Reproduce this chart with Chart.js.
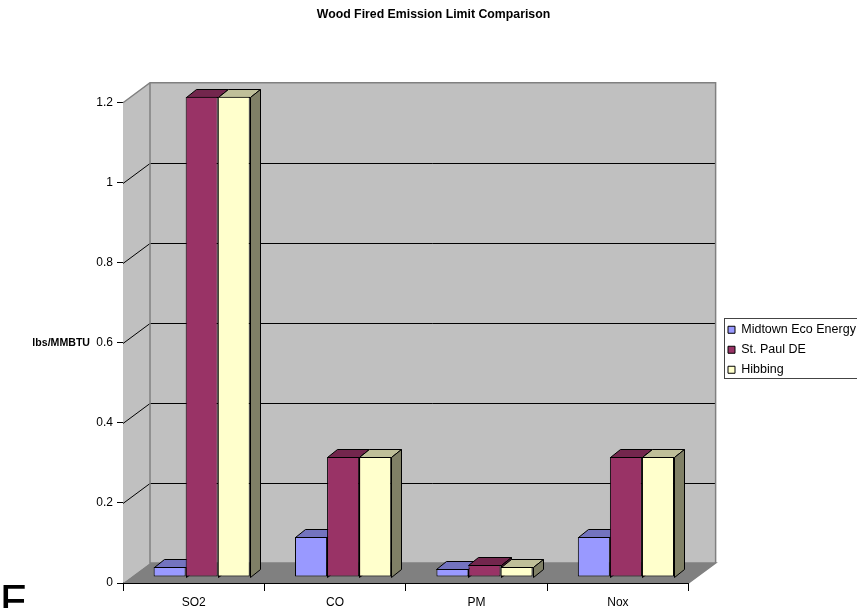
<!DOCTYPE html>
<html><head><meta charset="utf-8">
<style>html,body{margin:0;padding:0;background:#fff;overflow:hidden}canvas{display:block}</style>
<script src="https://cdn.jsdelivr.net/npm/chart.js@4"></script></head>
<body><canvas id="c" width="857" height="608"></canvas>
<script>
const categories = ["SO2","CO","PM","Nox"];
const midtown = [0.025,0.1,0.02,0.1];
const stPaul = [1.2,0.3,0.03,0.3];
const hibbing = [1.2,0.3,0.025,0.3];
const seriesNames = ["Midtown Eco Energy","St. Paul DE","Hibbing"];
const yTicks = [0,0.2,0.4,0.6,0.8,1,1.2];
const chartTitle = "Wood Fired Emission Limit Comparison";
const yTitle = "lbs/MMBTU";
const FONT = '"Liberation Sans", Arial, sans-serif';
const colors = [[153,153,255],[153,51,102],[255,255,204]];
const rgb = (c,k=1)=>`rgb(${c.map(v=>Math.round(v*k)).join(',')})`;
const WALL = {x:27,y:-20}, BAR = {x:8,y:-6}, DEPTH = {x:10,y:-8};

function poly(ctx,pts,fill,stroke,lw){
  ctx.beginPath();
  pts.forEach((p,i)=>i?ctx.lineTo(p[0],p[1]):ctx.moveTo(p[0],p[1]));
  ctx.closePath();
  if(fill){ctx.fillStyle=fill;ctx.fill();}
  if(stroke){ctx.strokeStyle=stroke;ctx.lineWidth=lw||1;ctx.stroke();}
}
const scene = {
  id:'scene',
  afterLayout(chart){
    const l=chart.legend;
    const w=l.width,h=l.height;
    l.left=720.5;l.right=720.5+w;l.top=316;l.bottom=316+h;
    chart.titleBlock.left=0;chart.titleBlock.right=867;
  },
  beforeDatasetsDraw(chart){
    const {ctx,scales:{x,y}}=chart;
    const L=x.left,R=x.right,B=y.getPixelForValue(0),T=y.getPixelForValue(1.2);
    ctx.save();
    poly(ctx,[[L,T],[L+WALL.x,T+WALL.y],[L+WALL.x,B+WALL.y],[L,B]],'#c0c0c0');
    poly(ctx,[[L+WALL.x,T+WALL.y],[R+WALL.x,T+WALL.y],[R+WALL.x,B+WALL.y],[L+WALL.x,B+WALL.y]],'#c0c0c0');
    poly(ctx,[[L,B],[L+WALL.x,B+WALL.y],[R+WALL.x,B+WALL.y],[R,B]],'#808080');
    ctx.lineWidth=1;
    yTicks.forEach(v=>{
      if(v===0||v===1.2) return;
      const p=Math.round(y.getPixelForValue(v))+0.5;
      ctx.strokeStyle='#000';
      ctx.beginPath();ctx.moveTo(L,p);ctx.lineTo(L+WALL.x,p+WALL.y);ctx.lineTo(R+WALL.x,p+WALL.y);ctx.stroke();
    });
    ctx.strokeStyle='#808080';
    ctx.lineWidth=1.5;
    ctx.beginPath();
    ctx.moveTo(L,T);ctx.lineTo(L+WALL.x,T+WALL.y);ctx.lineTo(R+WALL.x,T+WALL.y);ctx.lineTo(R+WALL.x,B+WALL.y);
    ctx.moveTo(L+WALL.x,T+WALL.y);ctx.lineTo(L+WALL.x,B+WALL.y);ctx.lineTo(R+WALL.x,B+WALL.y);ctx.lineTo(R,B);
    ctx.stroke();
    // side and top faces of every bar, left series first
    ctx.translate(BAR.x,BAR.y);
    chart.getSortedVisibleDatasetMetas().forEach(meta=>{
      const i=meta.index;
      meta.data.forEach(b=>{
        const p=b.getProps(['x','y','base','width'],true);
        const l=Math.round(p.x-p.width/2)+0.5,r=Math.round(p.x+p.width/2)+0.5,t=Math.round(p.y)+0.5,bt=Math.round(p.base)+0.5;
        poly(ctx,[[l,t],[l+DEPTH.x,t+DEPTH.y],[r+DEPTH.x,t+DEPTH.y],[r,t]],rgb(colors[i],0.75),'#000',1);
        poly(ctx,[[r,t],[r+DEPTH.x,t+DEPTH.y],[r+DEPTH.x,bt+DEPTH.y],[r,bt]],rgb(colors[i],0.5),'#000',1);
      });
    });
    ctx.restore();
  },
  beforeDatasetDraw(chart){
    chart.ctx.save();
    chart.ctx.translate(BAR.x,BAR.y);
  },
  afterDatasetDraw(chart){chart.ctx.restore();},
  afterDraw(chart){
    const {ctx,scales:{y}}=chart;
    ctx.save();
    ctx.strokeStyle='#444';ctx.lineWidth=1;
    ctx.strokeRect(724.5,318.5,140,60);
    ctx.fillStyle='#000';
    ctx.font='bold 10.6px '+FONT;
    ctx.textAlign='right';ctx.textBaseline='middle';
    ctx.fillText(yTitle,90,y.getPixelForValue(0.6));
    ctx.textAlign='left';ctx.textBaseline='alphabetic';
    ctx.font='46px "DejaVu Sans", sans-serif';
    ctx.fillText('E',-1,619);
    ctx.restore();
  }
};
new Chart(document.getElementById('c'),{
  type:'bar',
  plugins:[scene],
  data:{labels:categories,datasets:[midtown,stPaul,hibbing].map((d,i)=>({
    label:seriesNames[i],data:d,backgroundColor:rgb(colors[i]),borderColor:'#000',borderWidth:1,
    borderSkipped:false,clip:false,categoryPercentage:0.68,barPercentage:1
  }))},
  options:{
    responsive:false,animation:false,devicePixelRatio:1,
    layout:{padding:{left:0,right:23,top:0,bottom:0}},
    plugins:{
      tooltip:{enabled:false},
      title:{display:true,text:chartTitle,color:'#000',font:{family:FONT,size:12.3,weight:'bold'},padding:{top:7,bottom:81}},
      legend:{display:true,position:'right',align:'start',labels:{color:'#000',font:{family:FONT,size:12.5},boxWidth:7,boxHeight:7,padding:7.5}}
    },
    scales:{
      x:{type:'category',offset:true,
        grid:{display:true,drawOnChartArea:false,offset:true,tickLength:8,color:'#000'},
        border:{display:true,color:'#000'},
        ticks:{color:'#000',font:{family:FONT,size:12},padding:4,maxRotation:0},
        afterFit(s){s.height=25;}},
      y:{type:'linear',min:0,max:1.2,
        grid:{display:true,drawOnChartArea:false,tickLength:6,color:'#000'},
        border:{display:true,color:'#000'},
        ticks:{stepSize:0.2,color:'#000',font:{family:FONT,size:12},padding:4,callback:v=>String(+v.toFixed(1))},
        afterFit(s){s.width=123;}}
    }
  }
});
</script></body></html>
